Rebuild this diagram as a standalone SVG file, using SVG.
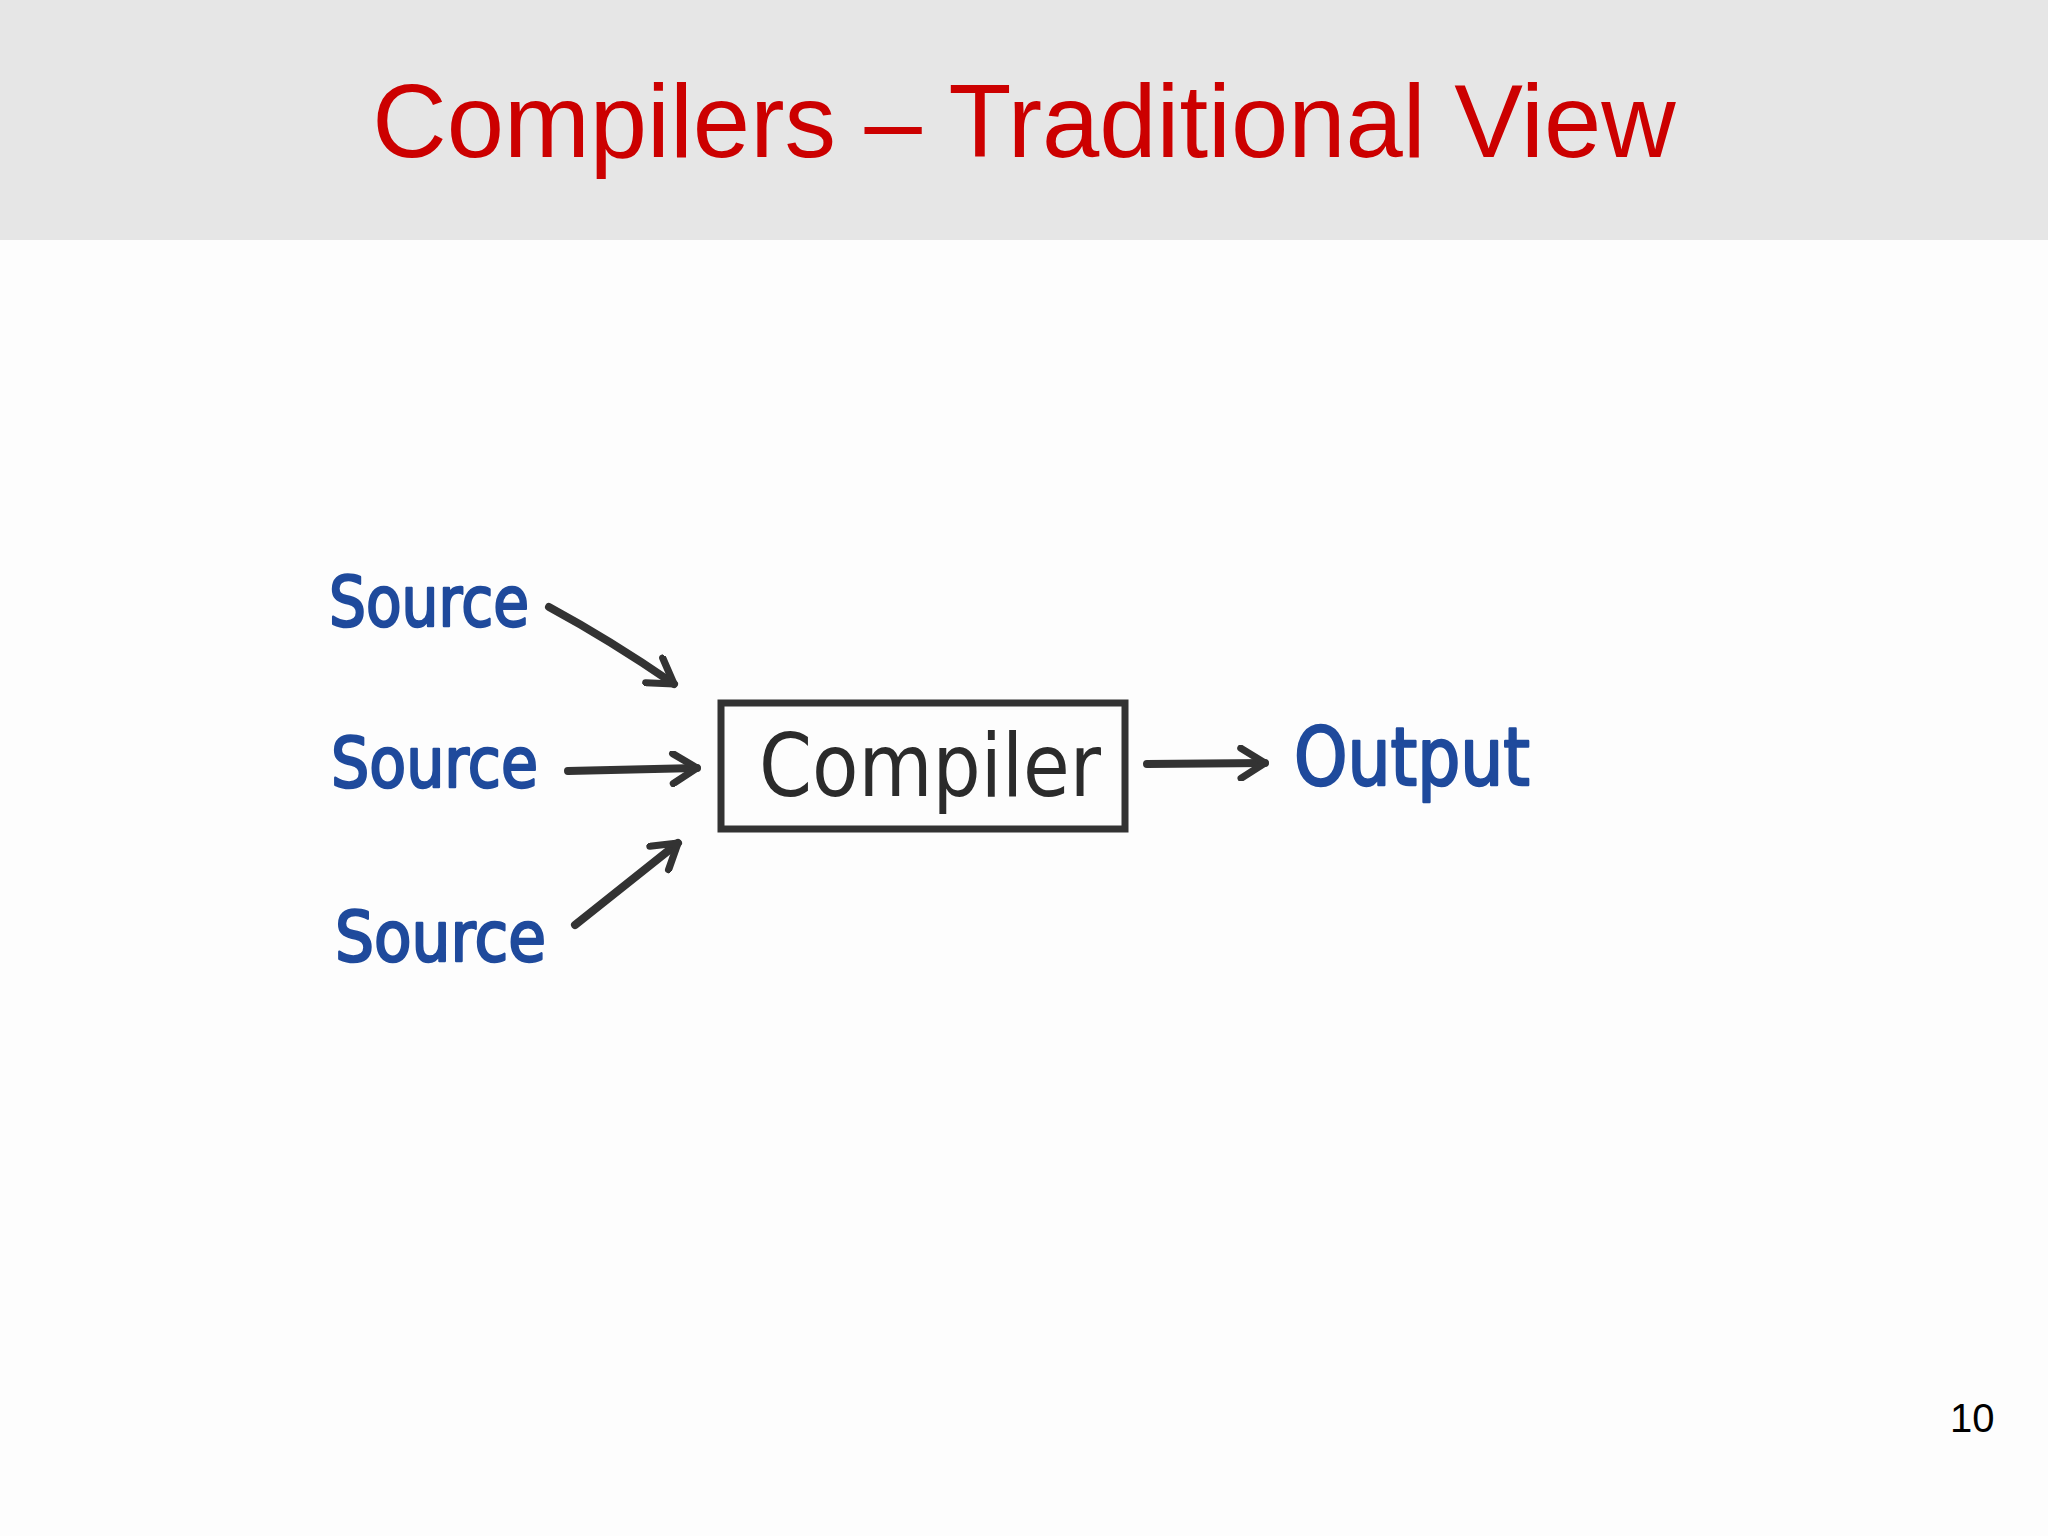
<svg xmlns="http://www.w3.org/2000/svg" width="2048" height="1536" viewBox="0 0 2048 1536">
<style>
.title{font-family:"Liberation Sans",Arial,sans-serif;font-size:103px;fill:#cc0000}
.hand{font-family:"DejaVu Sans","Liberation Sans",sans-serif;fill:#1f4a9c;stroke:#1f4a9c;stroke-width:2.5;stroke-linejoin:round}
.box{fill:none;stroke:#333;stroke-width:7}
.conn{fill:none;stroke:#333;stroke-width:8;stroke-linecap:round}
.num{font-family:"Liberation Sans",Arial,sans-serif;font-size:40px;fill:#000}
</style>
<defs>
<marker id="ah" viewBox="0 0 12 12" refX="10" refY="6" markerWidth="4.5" markerHeight="4.5" orient="auto" markerUnits="strokeWidth">
<path d="M2,1 L10,6 L2,11" fill="none" stroke="#333" stroke-width="2.4" stroke-linecap="round" stroke-linejoin="round"/>
</marker>
</defs>
<rect x="0" y="0" width="2048" height="1536" fill="#fdfdfd"/>
<rect x="0" y="0" width="2048" height="240" fill="#e6e6e6"/>
<text class="title" x="1024" y="157" text-anchor="middle">Compilers – Traditional View</text>
<g id="connectors">
<path class="conn" d="M549,607 Q610,640 674,684" marker-end="url(#ah)"/>
<path class="conn" d="M568,771 L697,768" marker-end="url(#ah)"/>
<path class="conn" d="M575,925 L678,843" marker-end="url(#ah)"/>
<path class="conn" d="M1147,764 L1265,763" marker-end="url(#ah)"/>
</g>
<g id="source1"><text class="hand" x="329" y="626" font-size="70" textLength="200" lengthAdjust="spacingAndGlyphs">Source</text></g>
<g id="source2"><text class="hand" x="331" y="787" font-size="70" textLength="207" lengthAdjust="spacingAndGlyphs">Source</text></g>
<g id="source3"><text class="hand" x="335" y="961" font-size="70" textLength="211" lengthAdjust="spacingAndGlyphs">Source</text></g>
<g id="compiler">
<rect class="box" x="721" y="703" width="404" height="126"/>
<text x="759" y="796" font-family="DejaVu Sans, Liberation Sans, sans-serif" font-size="88" fill="#2b2b2b" textLength="342" lengthAdjust="spacingAndGlyphs">Compiler</text>
</g>
<g id="output"><text class="hand" x="1294" y="785" font-size="80" textLength="236" lengthAdjust="spacingAndGlyphs">Output</text></g>
<text class="num" x="1950" y="1432">10</text>
</svg>
